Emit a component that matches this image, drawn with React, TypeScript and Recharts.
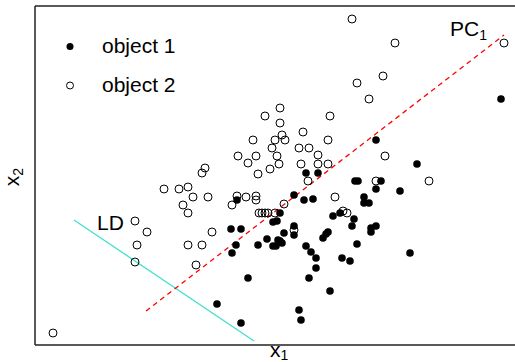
import { ScatterChart, Scatter, XAxis, YAxis, ReferenceLine } from "recharts";

// values, in plot units (x: 0-480, y: 0-339)
const object1: [number, number][] = [
  [466, 246], [341, 205], [382, 181], [271, 172], [283, 172], [320, 164], [323, 164],
  [346, 164], [341, 156], [365, 154], [259, 150], [269, 145], [278, 146], [329, 148],
  [329, 142], [334, 142], [202, 145], [245, 132], [305, 132], [238, 123], [242, 124],
  [298, 129], [319, 126], [259, 119], [317, 119], [196, 116], [206, 116], [249, 112],
  [293, 113], [291, 111], [288, 107], [336, 117], [341, 119], [336, 113], [232, 106],
  [243, 105], [238, 99], [241, 99], [245, 104], [247, 102], [201, 100], [223, 100],
  [197, 92], [271, 99], [322, 101], [276, 93], [281, 87], [307, 87], [315, 84],
  [375, 92], [281, 77], [213, 67], [274, 67], [295, 54], [182, 41], [206, 22],
  [264, 35], [266, 25], [259, 110],
];

const object2: [number, number][] = [
  [317, 326], [360, 302], [469, 302], [322, 262], [348, 269], [334, 246], [230, 229],
  [245, 237], [245, 222], [295, 229], [247, 210], [240, 205], [250, 205], [268, 213],
  [218, 205], [237, 197], [264, 197], [274, 197], [293, 205], [242, 189], [283, 190],
  [350, 189], [203, 189], [221, 189], [213, 182], [235, 176], [244, 181], [266, 181],
  [283, 181], [293, 181], [170, 177], [167, 172], [223, 171], [273, 164], [341, 164],
  [394, 164], [129, 156], [144, 156], [153, 158], [158, 148], [173, 148], [202, 149],
  [211, 148], [221, 149], [221, 145], [148, 140], [197, 140], [249, 141], [300, 148],
  [153, 132], [224, 132], [227, 132], [230, 132], [233, 132], [240, 132], [308, 134],
  [312, 132], [100, 124], [112, 113], [177, 113], [259, 115], [102, 100], [153, 100],
  [167, 100], [100, 83], [161, 80], [18, 12],
];

const pc1Line: [number, number][] = [[111, 34], [469, 310]];
const ldLine: [number, number][] = [[39, 125], [219, 4]];

const seriesNames = ["object 1", "object 2"];

const toPoints = (arr: [number, number][]) => arr.map(([x, y]) => ({ x, y }));

const FONT = "'Liberation Sans', Arial, Helvetica, sans-serif";
const FRAME = "#222";

const FilledDot = (p: any) => <circle cx={p.cx} cy={p.cy} r={3.8} fill="#000" />;
const OpenDot = (p: any) => (
  <circle cx={p.cx} cy={p.cy} r={4} fill="none" stroke="#000" strokeWidth={1} />
);
const NoDot = () => <g />;

export default function App() {
  return (
    <div style={{ position: "absolute", left: 0, top: 0, width: 515, height: 362, background: "#fff", fontFamily: FONT }}>
      <ScatterChart width={515} height={362} margin={{ top: 6, right: 0, bottom: 17, left: 35 }}>
        <XAxis type="number" dataKey="x" domain={[0, 480]} hide />
        <YAxis type="number" dataKey="y" domain={[0, 339]} hide />
        <ReferenceLine y={0} stroke={FRAME} strokeWidth={1.5} />
        <ReferenceLine y={339} stroke={FRAME} strokeWidth={1.5} />
        <ReferenceLine x={0} stroke={FRAME} strokeWidth={1.5} />
        <Scatter
          data={toPoints(ldLine)}
          line={{ stroke: "#40e0d0", strokeWidth: 1.3 }}
          shape={NoDot}
          isAnimationActive={false}
        />
        <Scatter
          data={toPoints(pc1Line)}
          line={{ stroke: "#ff0000", strokeWidth: 1.3, strokeDasharray: "5 4" }}
          shape={NoDot}
          isAnimationActive={false}
        />
        <Scatter name={seriesNames[1]} data={toPoints(object2)} shape={OpenDot} isAnimationActive={false} />
        <Scatter name={seriesNames[0]} data={toPoints(object1)} shape={FilledDot} isAnimationActive={false} />
      </ScatterChart>

      {/* legend */}
      <svg style={{ position: "absolute", left: 62, top: 38 }} width={16} height={56}>
        <circle cx={8} cy={8.5} r={3.5} fill="#000" />
        <circle cx={8} cy={47.5} r={3.5} fill="none" stroke="#000" strokeWidth={1} />
      </svg>
      <div style={{ position: "absolute", left: 102, top: 35, fontSize: 21, lineHeight: "21px", color: "#000" }}>
        {seriesNames[0]}
      </div>
      <div style={{ position: "absolute", left: 102, top: 74, fontSize: 21, lineHeight: "21px", color: "#000" }}>
        {seriesNames[1]}
      </div>

      {/* line labels */}
      <div style={{ position: "absolute", left: 450, top: 18, fontSize: 21, lineHeight: "21px", color: "#000" }}>
        PC<span style={{ fontSize: 14, position: "relative", top: 4 }}>1</span>
      </div>
      <div style={{ position: "absolute", left: 97, top: 212, fontSize: 21, lineHeight: "21px", color: "#000" }}>
        LD
      </div>

      {/* axis titles */}
      <div style={{ position: "absolute", left: 270, top: 339, fontSize: 21, lineHeight: "21px", color: "#000" }}>
        x<span style={{ fontSize: 14, position: "relative", top: 3 }}>1</span>
      </div>
      <div
        style={{
          position: "absolute",
          left: -8,
          top: 166,
          width: 40,
          height: 22,
          fontSize: 21,
          lineHeight: "22px",
          textAlign: "center",
          color: "#000",
          transform: "rotate(-90deg)",
        }}
      >
        x<span style={{ fontSize: 14, position: "relative", top: 4 }}>2</span>
      </div>
    </div>
  );
}
